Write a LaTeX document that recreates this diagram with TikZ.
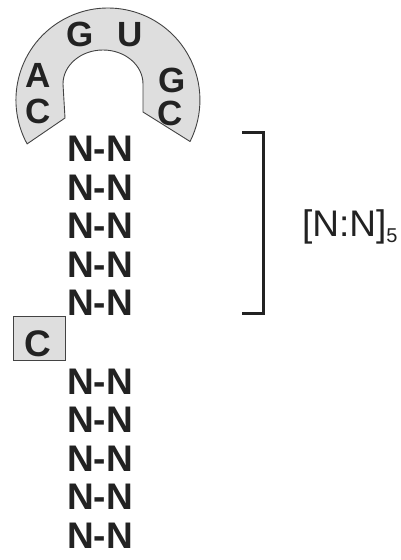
\documentclass[tikz,border=0pt]{standalone}
\usepackage{fontspec}
\setmainfont{Liberation Sans}
\definecolor{ink}{HTML}{222222}
\definecolor{loopfill}{HTML}{DEDEDE}
\begin{document}
\begin{tikzpicture}[x=1pt,y=-1pt,
  base/.style={font=\fontsize{35}{35}\selectfont\bfseries, text=ink, inner sep=0pt, anchor=center},
  pair/.style={font=\fontsize{37}{37}\selectfont\bfseries, text=ink, inner sep=0pt, anchor=center},
  loopshape/.style={fill=loopfill, draw=ink!85, line width=0.9pt, line join=round},
  bulge/.style={fill=loopfill, draw=ink!85, line width=0.9pt},
  brace/.style={draw=ink, line width=3pt},
  repeatlabel/.style={font=\fontsize{37}{37}\selectfont, text=ink, inner sep=0pt, anchor=base west}]
\useasboundingbox (0,0) rectangle (400,560);

% hairpin loop
\path[loopshape] (27.1,143.9) arc[start angle=151.5, end angle=386.8, radius=92]
  -- (143,112) -- (143,84)
  arc[start angle=0, end angle=-180, x radius=40, y radius=34]
  -- (65,118) -- cycle;

% loop bases
\node[base] (a1) at (38.5,75.5) {A};
\node[base] (c1) at (38.5,111.5) {C};
\node[base] (g1) at (80,34.5) {G};
\node[base] (u1) at (130.5,35) {U};
\node[base] (g2) at (172.5,80) {G};
\node[base] (c2) at (170.5,113.5) {C};

% upper stem
\foreach \i in {0,...,4}
  \node[pair] (t\i) at (100,149+38.5*\i) {N-N};

% bulged C
\draw[bulge] (13,316) rectangle (65,360);
\node[pair] (bc) at (37.5,343.5) {C};

% lower stem
\foreach \i in {0,...,4}
  \node[pair] (b\i) at (100,381.5+38.5*\i) {N-N};

% repeat bracket
\coordinate (br1) at (242,132);
\coordinate (br2) at (263,132);
\coordinate (br3) at (263,313);
\coordinate (br4) at (242,313);
\draw[brace] (br1) -- (br2) -- (br3) -- (br4);
\node[repeatlabel] (lab) at (302,236) {[N:N]\raisebox{-6pt}{\fontsize{20}{20}\selectfont 5}};
\end{tikzpicture}
\end{document}
